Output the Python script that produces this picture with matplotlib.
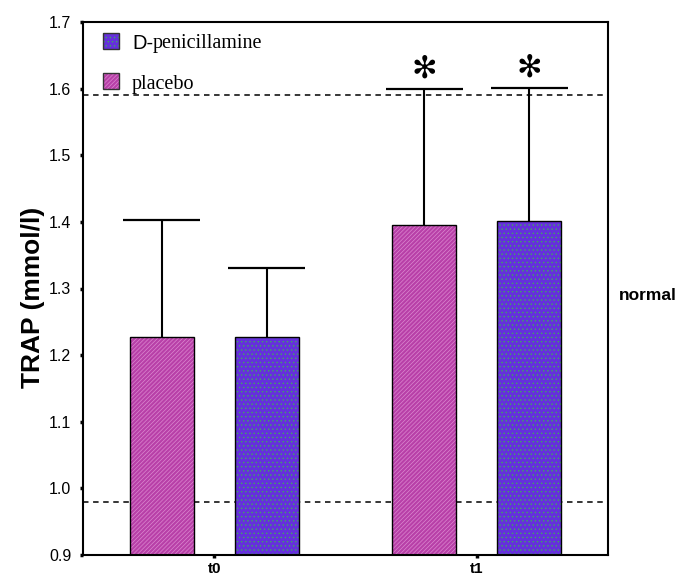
import matplotlib
matplotlib.use("Agg")
import matplotlib.pyplot as plt
import numpy as np

# Total radical-trapping antioxidant parameter, mean + SD
categories = ["t0", "t1"]
placebo_mean = [1.227, 1.395]
placebo_sd = [0.176, 0.205]
dpen_mean = [1.227, 1.402]
dpen_sd = [0.104, 0.199]
normal_range = [0.98, 1.59]
significant_t1 = [True, True]  # placebo, D-penicillamine at t1

yticks = [0.9, 1.0, 1.1, 1.2, 1.3, 1.4, 1.5, 1.6, 1.7]

PLACEBO_FACE = "#B840A8"
PLACEBO_HATCH = "#DC88D0"
DPEN_FACE = "#6530DC"
DPEN_HATCH = "#3FA860"

plt.rcParams["hatch.linewidth"] = 0.5

fig = plt.figure(figsize=(6.78, 5.78), dpi=100)
ax = fig.add_axes([83 / 678, 23 / 578, 525 / 678, 533 / 578])

x = np.arange(len(categories))
off = 0.2
width = 0.245
cap_half = 0.147

# reference range of healthy subjects
for v in normal_range:
    ax.axhline(v, color="black", lw=1.1, ls=(0, (3.6, 3.0)), zorder=1)


def draw_bars(xpos, means, face, hatch_col, hatch):
    ax.bar(xpos, np.array(means) - 0.9, width, bottom=0.9, color=face,
           edgecolor=hatch_col, hatch=hatch, linewidth=0, zorder=2)
    ax.bar(xpos, np.array(means) - 0.9, width, bottom=0.9, fill=False,
           edgecolor="black", linewidth=1.0, zorder=3)


draw_bars(x - off, placebo_mean, PLACEBO_FACE, PLACEBO_HATCH, "////////")
draw_bars(x + off, dpen_mean, DPEN_FACE, DPEN_HATCH, "....")

# upper error bars
for xpos, m, s in [(x - off, placebo_mean, placebo_sd), (x + off, dpen_mean, dpen_sd)]:
    tops = np.array(m) + np.array(s)
    ax.vlines(xpos, m, tops, color="black", lw=1.5, zorder=4)
    ax.hlines(tops, xpos - cap_half, xpos + cap_half, color="black", lw=1.6, zorder=4)

# significance markers above t1 bars
t1_tops = [placebo_mean[1] + placebo_sd[1], dpen_mean[1] + dpen_sd[1]]
for xpos, top, sig in zip([x[1] - off, x[1] + off], t1_tops, significant_t1):
    if sig:
        ax.text(xpos, top + 0.030, "\u273b", ha="center", va="center",
                fontsize=22, family="DejaVu Sans", fontweight="bold", zorder=5)

ax.set_xlim(-0.5, 1.5)
ax.set_ylim(0.9, 1.7)
ax.set_yticks(yticks)
ax.set_yticklabels([f"{t:.1f}" for t in yticks], family="Liberation Sans", fontsize=11.5)
ax.set_xticks(x)
ax.set_xticklabels(categories, family="Liberation Sans", fontsize=11, fontweight="bold")
ax.tick_params(axis="both", direction="out", length=2.5, width=2.5)
ax.tick_params(axis="y", pad=6)
ax.tick_params(axis="x", pad=2.5)
for sp in ax.spines.values():
    sp.set_linewidth(1.5)

# axis title
fig.text(33 / 678, 1 - 297 / 578, "TRAP (mmol/l)", family="Liberation Sans",
         fontsize=19, fontweight="bold", rotation=90, ha="center", va="center")

# "normal" annotation to the right of the frame
fig.text(619 / 678, 1 - 296 / 578, "normal", family="Liberation Sans",
         fontsize=12.5, fontweight="bold", ha="left", va="center")

# legend drawn by hand
def px_to_axes(px, py):
    return ((px - 83) / 525, (555 - py) / 533)

entries = [("D-", "penicillamine", DPEN_FACE, DPEN_HATCH, "....", 49),
           ("", "placebo", PLACEBO_FACE, PLACEBO_HATCH, "////////", 89)]
for sans_part, serif_part, face, hcol, hatch, base_y in entries:
    x0, y0 = px_to_axes(103, base_y)
    w = 16 / 525
    h = 16 / 533
    ax.add_patch(plt.Rectangle((x0, y0), w, h, transform=ax.transAxes,
                               facecolor=face, edgecolor=hcol, hatch=hatch,
                               linewidth=0, zorder=6))
    ax.add_patch(plt.Rectangle((x0, y0), w, h, transform=ax.transAxes,
                               fill=False, edgecolor="#333333", linewidth=1.0, zorder=7))
    tx, ty = px_to_axes(132, base_y)
    if sans_part:
        t1 = ax.text(tx, ty, sans_part, transform=ax.transAxes, ha="left",
                     va="baseline", family="Liberation Sans", fontsize=14.5, zorder=7)
        ax.annotate(serif_part, xy=(1, 0), xycoords=t1, ha="left", va="bottom",
                    family="Liberation Serif", fontsize=14.5, zorder=7)
    else:
        ax.text(tx, ty, serif_part, transform=ax.transAxes, ha="left",
                va="baseline", family="Liberation Serif", fontsize=14.5, zorder=7)

fig.savefig("out.png", dpi=100)
